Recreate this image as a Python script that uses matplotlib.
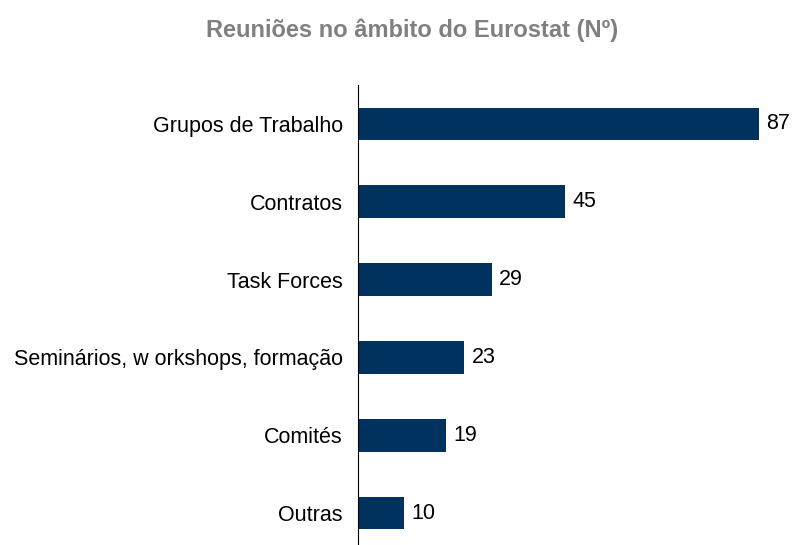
import matplotlib
matplotlib.use("Agg")
import matplotlib.pyplot as plt

categories = ["Grupos de Trabalho", "Contratos", "Task Forces",
              "Seminários, w orkshops, formação", "Comités", "Outras"]
values = [87, 45, 29, 23, 19, 10]

plt.rcParams['font.family'] = ['Liberation Sans', 'DejaVu Sans']

W, H = 792, 545
fig = plt.figure(figsize=(W/100, H/100), dpi=100)
left = 358 / W
right = 780 / W
top_px = 85
bot_px = 552
ax = fig.add_axes([left, (H - bot_px) / H, right - left, (bot_px - top_px) / H])

n = len(categories)
ypos = list(range(n))[::-1]
ax.barh(ypos, values, height=0.42, color="#00325F")
ax.set_ylim(-0.5, n - 0.5)
ax.set_xlim(0, 87 * (780 - 358) / (759 - 358))
ax.set_yticks(ypos)
ax.set_yticklabels(categories, fontsize=15.5, color="#000000")
ax.tick_params(axis='y', length=0, pad=11)
ax.set_xticks([])
for s in ["top", "right", "bottom"]:
    ax.spines[s].set_visible(False)
ax.spines["left"].set_color("#000000")
ax.spines["left"].set_linewidth(0.8)
for y, v in zip(ypos, values):
    ax.text(v + 1.6, y, str(v), va="center", ha="left", fontsize=15.5, color="#000000")

fig.text(412 / W, 1 - 30 / H, "Reuniões no âmbito do Eurostat (Nº)", ha="center", va="center",
         fontsize=17, fontweight="bold", color="#808080")
fig.savefig("out.png", dpi=100)
